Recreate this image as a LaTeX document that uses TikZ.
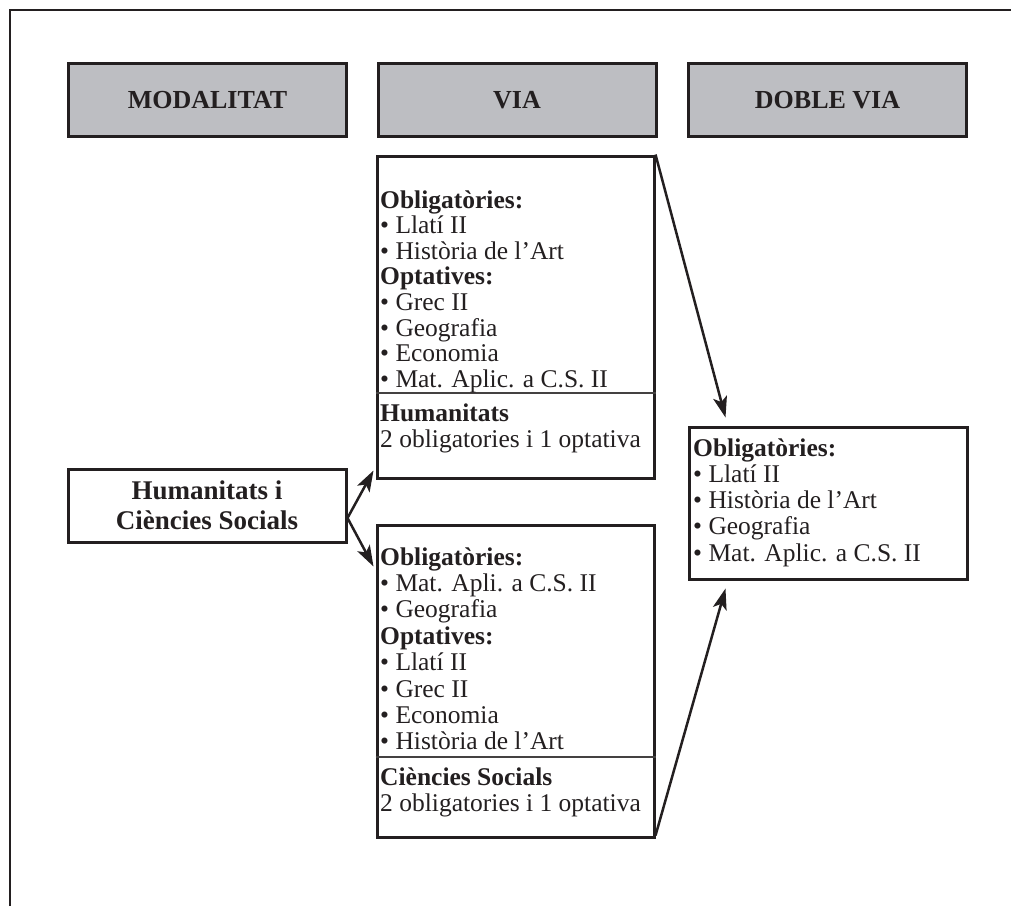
\documentclass[tikz,border=0pt]{standalone}
\usepackage{fontspec}
\setmainfont{Liberation Serif}
\usetikzlibrary{arrows.meta,calc}
\definecolor{ink}{HTML}{231F20}
\definecolor{hdrgray}{HTML}{BDBEC2}
\begin{document}
\begin{tikzpicture}[x=1pt,y=-1pt,
  frame/.style={draw=ink, line width=2pt},
  hdr/.style={draw=ink, fill=hdrgray, line width=3pt, minimum width=278pt, minimum height=73pt, inner sep=0pt, text=ink, font=\fontsize{26}{26}\selectfont\bfseries},
  box/.style={draw=ink, line width=3pt, inner sep=0pt},
  sep/.style={draw=ink!85, line width=1.2pt},
  txt/.style={inner sep=0pt, anchor=base west, text=ink, font=\fontsize{25.5}{26}\selectfont},
  arr/.style={draw=ink, line width=2.5pt, -{Stealth[length=21pt,width=14pt,inset=5pt]}}
]
\useasboundingbox (0,0) rectangle (1011,906);
\draw[frame] (10,906) -- (10,10) -- (1011,10);

% headers
\node[hdr] (hmod) at (207.5,100) {MODALITAT};
\node[hdr] (hvia) at (517,100) {VIA};
\node[hdr] (hdob) at (827.5,100) {DOBLE VIA};

% boxes
\node[box, minimum width=277pt, minimum height=322pt] (via1) at (515.5,317) {};
\node[box, minimum width=277pt, minimum height=312pt] (via2) at (515.5,681) {};
\node[box, minimum width=278pt, minimum height=152pt] (doble) at (828,503) {};
\node[box, minimum width=278pt, minimum height=73pt, align=center, text=ink,
  font=\fontsize{27}{30}\selectfont\bfseries] (mod) at (207,505.5) {Humanitats i\\Ciències Socials};

% separators
\draw[sep] ($(via1.west)+(0,76)$) -- ($(via1.east)+(0,76)$);
\draw[sep] ($(via2.west)+(0,76)$) -- ($(via2.east)+(0,76)$);

% top via text
\foreach \t [count=\i] in {{\textbf{Obligatòries:}},{\textbullet\ Llatí II},{\textbullet\ Història de l’Art},{\textbf{Optatives:}},{\textbullet\ Grec II},{\textbullet\ Geografia},{\textbullet\ Economia},{\textbullet\ Mat. Aplic. a C.S. II}}
  \node[txt] (ta\i) at (380,{208+(\i-1)*25.6}) {\t};
\node[txt] (tah) at (380,421) {\textbf{Humanitats}};
\node[txt] (tan) at (380,447) {2 obligatories i 1 optativa};

% bottom via text
\foreach \t [count=\i] in {{\textbf{Obligatòries:}},{\textbullet\ Mat. Apli. a C.S. II},{\textbullet\ Geografia},{\textbf{Optatives:}},{\textbullet\ Llatí II},{\textbullet\ Grec II},{\textbullet\ Economia},{\textbullet\ Història de l’Art}}
  \node[txt] (tb\i) at (380,{565+(\i-1)*26.4}) {\t};
\node[txt] (tbh) at (380,785) {\textbf{Ciències Socials}};
\node[txt] (tbn) at (380,811) {2 obligatories i 1 optativa};

% doble via text
\foreach \t [count=\i] in {{\textbf{Obligatòries:}},{\textbullet\ Llatí II},{\textbullet\ Història de l’Art},{\textbullet\ Geografia},{\textbullet\ Mat. Aplic. a C.S. II}}
  \node[txt] (tc\i) at (693,{456+(\i-1)*26.3}) {\t};

% arrows
\coordinate (src) at ($(mod.east)+(0,12.5)$);
\draw[arr] (src) -- ($(via1.south west)+(-2,-9)$);
\draw[arr] (src) -- ($(via2.north west)+(-2,43)$);
\draw[arr] (via1.north east) -- ($(doble.north west)+(38,-8)$);
\draw[arr] ($(via2.south east)+(0,-3)$) -- ($(doble.south west)+(38,8)$);
\end{tikzpicture}
\end{document}
